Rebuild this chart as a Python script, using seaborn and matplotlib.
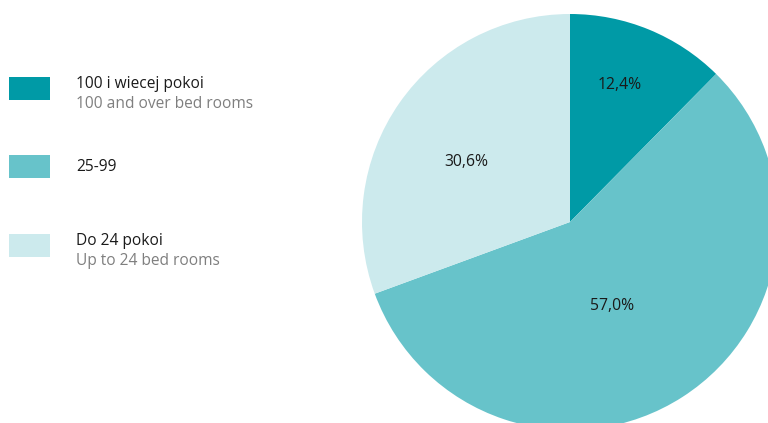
import matplotlib
matplotlib.use("Agg")
import matplotlib.pyplot as plt
import seaborn as sns
import numpy as np
from matplotlib.patches import Rectangle

sns.set_theme(style="white")
plt.rcParams['font.family'] = ['Open Sans', 'DejaVu Sans']

# Data
categories_pl = ["100 i wiecej pokoi", "25-99", "Do 24 pokoi"]
categories_en = ["100 and over bed rooms", "", "Up to 24 bed rooms"]
values = [12.4, 57.0, 30.6]
value_labels = ["12,4%", "57,0%", "30,6%"]
colors = ["#009aa6", "#67c3ca", "#cceaed"]

W, H = 768, 423
fig = plt.figure(figsize=(W / 100, H / 100), dpi=100)
fig.patch.set_facecolor("white")
ax = fig.add_axes([0, 0, 1, 1])

cx, cy, r = 570, H - 222, 208
wedges, _ = ax.pie(values, colors=colors, startangle=90, counterclock=False,
                   center=(cx, cy), radius=r, frame=True,
                   wedgeprops=dict(linewidth=0))
ax.set_xlim(0, W)
ax.set_ylim(0, H)
ax.set_aspect("equal")
ax.axis("off")

# Label placement (radial fraction, angle offset in degrees)
label_pos = [(0.70, 2.2), (0.45, -6.2), (0.575, 5.0)]
for w, lab, (fr, doff) in zip(wedges, value_labels, label_pos):
    ang = np.deg2rad((w.theta1 + w.theta2) / 2 + doff)
    x = cx + fr * r * np.cos(ang)
    y = cy + fr * r * np.sin(ang)
    ax.text(x, y, lab, ha="center", va="center", fontsize=11.3, color="#1a1a1a")

# Legend
box_tops = [77, 155, 234]
for top, col, pl, en in zip(box_tops, colors, categories_pl, categories_en):
    ax.add_patch(Rectangle((9, H - top - 23), 41, 23, facecolor=col, edgecolor="none"))
    if en:
        ax.text(76, H - (top + 7), pl, ha="left", va="center", fontsize=11.2, color="#1a1a1a")
        ax.text(76, H - (top + 27), en, ha="left", va="center", fontsize=11.2, color="#7f7f7f")
    else:
        ax.text(76, H - (top + 12), pl, ha="left", va="center", fontsize=11.2, color="#1a1a1a")

fig.savefig("out.png", dpi=100, facecolor="white")
